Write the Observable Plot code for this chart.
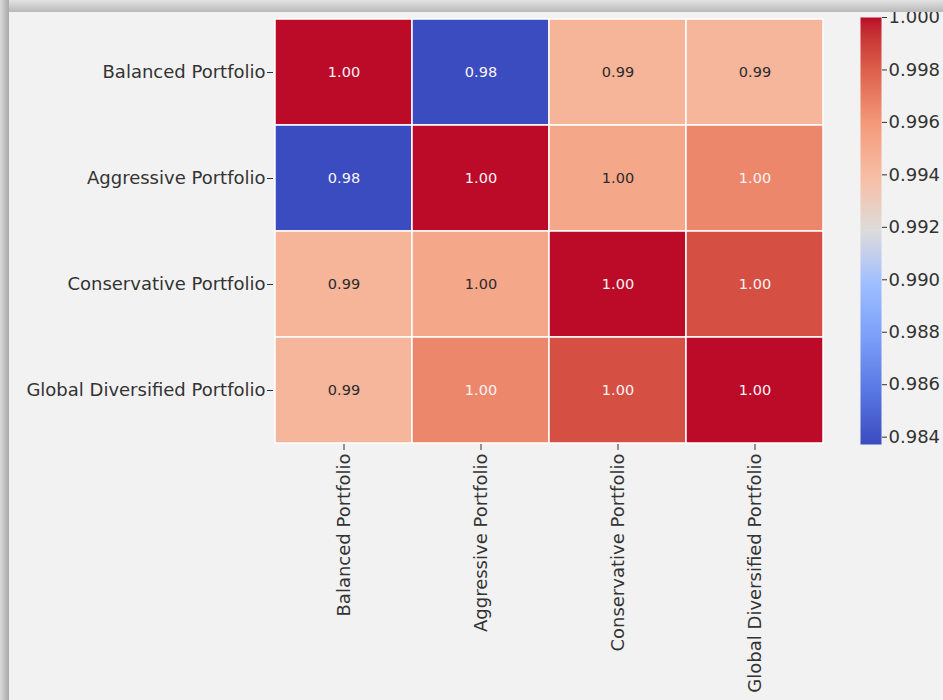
<!DOCTYPE html>
<html><head><meta charset="utf-8">
<script src="https://cdn.jsdelivr.net/npm/d3@7"></script>
<script src="https://cdn.jsdelivr.net/npm/@observablehq/plot@0.6"></script>
<style>
html,body{margin:0;padding:0;width:943px;height:700px;overflow:hidden;background:#d4d4d4;}
#card{position:absolute;left:9px;top:12px;width:1000px;height:800px;background:#f2f2f2;box-shadow:-2px -2px 8px 3px rgba(0,0,0,0.35);}
#heat,#bar{position:absolute;left:0;top:0;}
#topcover{position:absolute;left:0;top:0;width:943px;height:12px;background:linear-gradient(#e2e2e2,#b8b8b8);z-index:3;}
#leftcover{position:absolute;left:0;top:0;width:9px;height:700px;background:linear-gradient(90deg,#dcdcdc,#a8a8a8);z-index:3;}
</style></head><body>
<div id="card"></div>
<div id="heat"></div><div id="bar"></div>
<div id="topcover"></div><div id="leftcover"></div>
<script>
const portfolios = ["Balanced Portfolio", "Aggressive Portfolio", "Conservative Portfolio", "Global Diversified Portfolio"];
const corrBalanced     = [1.0000, 0.9837, 0.9945, 0.9944];
const corrAggressive   = [0.9837, 1.0000, 0.9952, 0.9966];
const corrConservative = [0.9945, 0.9952, 1.0000, 0.9985];
const corrGlobal       = [0.9944, 0.9966, 0.9985, 1.0000];
const colorMin = 0.98372, colorMax = 1.0;
const colorTicks = [0.984, 0.986, 0.988, 0.990, 0.992, 0.994, 0.996, 0.998, 1.000];
const coolwarm = ["#3b4cc0", "#5977e3", "#7b9ff9", "#9ebeff", "#dddcdc", "#f6bfa6", "#f49a7b", "#de604d", "#bc0a29"];

const rows = [corrBalanced, corrAggressive, corrConservative, corrGlobal];
const data = [];
rows.forEach((r, i) => r.forEach((v, j) => data.push({row: portfolios[i], col: portfolios[j], value: v})));

const stops = coolwarm.map((_, i) => colorMin + i * (colorMax - colorMin) / (coolwarm.length - 1));
const colorScale = {type: "linear", domain: stops, range: coolwarm, interpolate: "lab"};
const d3c = d3.scaleLinear().domain(stops).range(coolwarm).interpolate(d3.interpolateLab);
function lum(c) {
  const rgb = d3.rgb(c);
  const f = x => { x /= 255; return x <= 0.03928 ? x / 12.92 : Math.pow((x + 0.055) / 1.055, 2.4); };
  return 0.2126 * f(rgb.r) + 0.7152 * f(rgb.g) + 0.0722 * f(rgb.b);
}
const textColor = d => lum(d3c(d.value)) > 0.408 ? "#2b2b2b" : "#f8f4f4";

const font = {fontFamily: "DejaVu Sans, sans-serif", fontSize: "18px", color: "#333333", background: "transparent", overflow: "visible"};

const heat = Plot.plot({
  width: 825, height: 700,
  marginLeft: 273, marginRight: 1, marginTop: 17, marginBottom: 256,
  style: font,
  x: {domain: portfolios, padding: 0, axis: null},
  y: {domain: portfolios, padding: 0, axis: null},
  color: colorScale,
  marks: [
    Plot.cell(data, {x: "col", y: "row", fill: "value", stroke: "white", strokeWidth: 1.5}),
    Plot.text(data, {x: "col", y: "row", text: d => d.value.toFixed(2), fill: textColor, fontSize: 14.5}),
    Plot.axisY({tickSize: 6, tickPadding: 2, fontSize: 18, label: null, stroke: "#333333"}),
    Plot.axisX({tickSize: 6, tickPadding: 3, tickRotate: -90, fontSize: 18, label: null, stroke: "#333333"})
  ]
});
document.getElementById("heat").appendChild(heat);

const bar = Plot.plot({
  width: 943, height: 700,
  marginLeft: 860, marginRight: 62, marginTop: 17, marginBottom: 256,
  style: font,
  x: {domain: [0, 1], axis: null},
  y: {domain: [colorMin, colorMax], axis: null},
  color: colorScale,
  marks: [
    Plot.raster({fill: (x, y) => y, x1: 0, x2: 1, y1: colorMin, y2: colorMax, width: 1, height: 427, imageRendering: "auto"}),
    Plot.axisY({anchor: "right", ticks: colorTicks, tickFormat: d3.format(".3f"), tickSize: 5, tickPadding: 2, fontSize: 18, label: null, stroke: "#333333"})
  ]
});
document.getElementById("bar").appendChild(bar);
</script>
</body></html>
